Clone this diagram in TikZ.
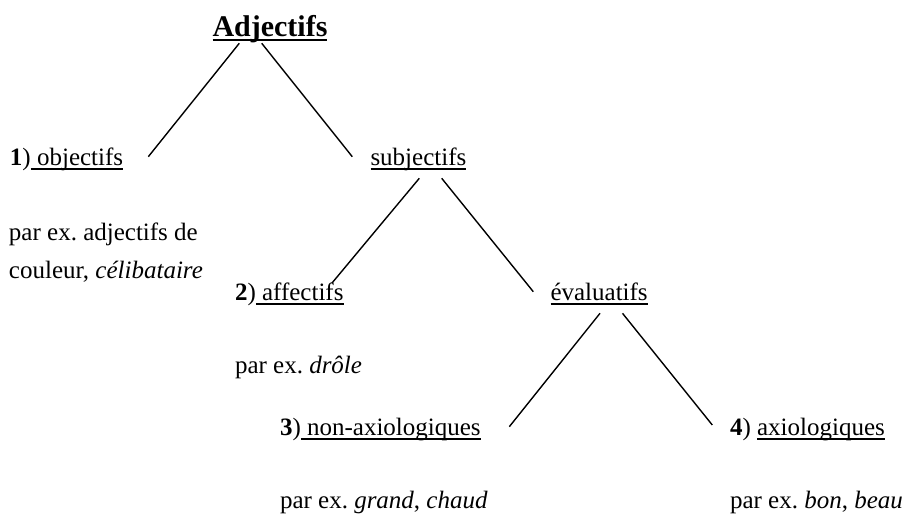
\documentclass[tikz,border=0pt]{standalone}
\usepackage{fontspec}
\setmainfont{Liberation Serif}
\frenchspacing
\newsavebox\ulbox
\newcommand\myul[1]{\sbox\ulbox{#1}\rlap{\rule[-2.4pt]{\wd\ulbox}{0.8pt}}\usebox\ulbox}
\newcommand\myulbig[1]{\sbox\ulbox{#1}\rlap{\rule[-2.7pt]{\wd\ulbox}{1.15pt}}\usebox\ulbox}
\begin{document}
\begin{tikzpicture}[x=0.5pt,y=-0.5pt,
  lbl/.style={anchor=base west,inner sep=0pt,outer sep=0pt,font=\fontsize{12.5}{15}\selectfont\frenchspacing},
  ttl/.style={anchor=base west,inner sep=0pt,outer sep=0pt,font=\fontsize{15}{18}\selectfont\bfseries},
  edge/.style={line width=0.7pt,black}]
\useasboundingbox (0,0) rectangle (906,514);
\node[ttl] (adj) at (212.5,36) {\myulbig{Adjectifs}};
\node[lbl] (obj) at (10,165) {\textbf{1})\myul{~objectifs}};
\node[lbl] (objex1) at (9,240) {par ex. adjectifs de};
\node[lbl] (objex2) at (9,278) {couleur, \textit{célibataire}};
\node[lbl] (subj) at (370.5,165) {\myul{subjectifs}};
\node[lbl] (aff) at (235,300) {\textbf{2})\myul{~affectifs}};
\node[lbl] (affex) at (235,373) {par ex. \textit{drôle}};
\node[lbl] (eval) at (550.5,300) {\myul{évaluatifs}};
\node[lbl] (nax) at (280,435) {\textbf{3})\myul{~non-axiologiques}};
\node[lbl] (naxex) at (280,508) {par ex. \textit{grand}, \textit{chaud}};
\node[lbl] (ax) at (730,435) {\textbf{4}) \myul{axiologiques}};
\node[lbl] (axex) at (730,508) {par ex. \textit{bon}, \textit{beau}};
% connector end points
\coordinate (adjL) at (239.3,43.3);
\coordinate (adjR) at (261.7,43.3);
\coordinate (objT) at (148.3,156.7);
\coordinate (subjT) at (352.3,156.7);
\coordinate (subjL) at (419.3,178.3);
\coordinate (subjR) at (441.7,178.3);
\coordinate (affT) at (332,283);
\coordinate (evalT) at (533.3,291.7);
\coordinate (evalL) at (600,313.3);
\coordinate (evalR) at (622.5,313.3);
\coordinate (naxT) at (509.3,426.7);
\coordinate (axT) at (712.3,425);
\draw[edge] (adjL) -- (objT);
\draw[edge] (adjR) -- (subjT);
\draw[edge] (subjL) -- (affT);
\draw[edge] (subjR) -- (evalT);
\draw[edge] (evalL) -- (naxT);
\draw[edge] (evalR) -- (axT);
\end{tikzpicture}
\end{document}
